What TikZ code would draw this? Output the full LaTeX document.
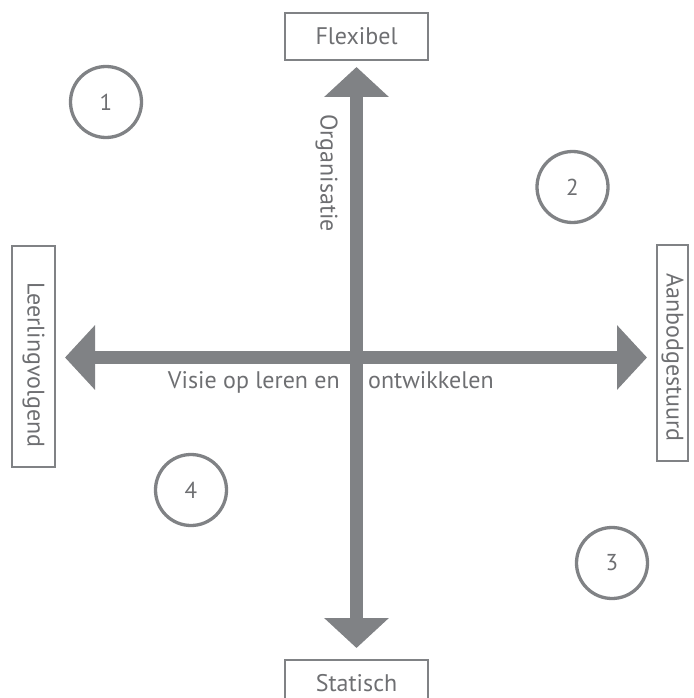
\documentclass[tikz,border=0pt]{standalone}
\usepackage{fontspec}
\setmainfont{PT Sans}
\usetikzlibrary{arrows.meta}
\definecolor{axisgray}{RGB}{128,130,133}
\definecolor{textgray}{RGB}{110,111,114}
\tikzset{
  lbl/.style={text=textgray, font=\fontsize{24}{28}\selectfont, inner sep=0pt},
  poolbox/.style={draw=axisgray, line width=2pt, text=textgray, font=\fontsize{24}{28}\selectfont, inner sep=0pt, minimum width=143pt, minimum height=47pt},
  sidebox/.style={draw=axisgray, line width=2pt, inner sep=0pt, rotate=-90},
  quad/.style={circle, draw=axisgray, line width=3.3pt, text=textgray, font=\fontsize{23}{27}\selectfont, inner sep=0pt, minimum size=71pt},
  axis/.style={draw=axisgray, line width=13pt, {Triangle[length=30pt,width=63pt]}-{Triangle[length=30pt,width=63pt]}}
}
\begin{document}
\begin{tikzpicture}[x=1pt,y=-1pt]
\useasboundingbox (0,0) rectangle (693,698);
\clip (0,0) rectangle (693,698);
% boxes
\node[poolbox] (flex) at (356.5,36.5) {Flexibel};
\node[poolbox] (stat) at (356.5,683.5) {Statisch};
\node[sidebox, minimum width=221pt, minimum height=43pt] (leer) at (33.5,356) {};
\node[lbl, rotate=-90] (leert) at (33.5,365) {Leerlingvolgend};
\node[sidebox, minimum width=216pt, minimum height=31pt] (aanb) at (672.5,353) {};
\node[lbl, rotate=-90] (aanbt) at (672.5,357.5) {Aanbodgestuurd};
% axis end points
\coordinate (top) at (356.5,67);
\coordinate (bot) at (356.5,648);
\coordinate (lft) at (65,357.5);
\coordinate (rgt) at (647,357.5);
\draw[axis] (top) -- (bot);
\draw[axis] (lft) -- (rgt);
% axis labels
\node[lbl, rotate=-90] (org) at (326.5,173) {Organisatie};
\node[lbl, anchor=base east] (vis1) at (340,388) {Visie op leren en};
\node[lbl, anchor=base west] (vis2) at (368,388) {ontwikkelen};
% quadrant circles
\node[quad] (q1) at (106,102) {1};
\node[quad] (q2) at (572.5,187) {2};
\node[quad] (q3) at (612,563) {3};
\node[quad] (q4) at (191,490) {4};
\end{tikzpicture}
\end{document}
